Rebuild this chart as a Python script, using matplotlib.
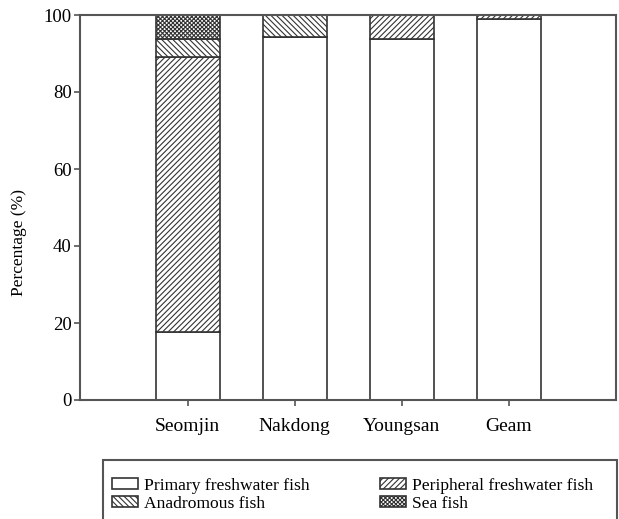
import matplotlib
matplotlib.use("Agg")
import matplotlib.pyplot as plt
from matplotlib.patches import Rectangle
import numpy as np

plt.rcParams['font.family'] = ['Liberation Serif', 'DejaVu Serif']
plt.rcParams['hatch.color'] = '#333333'
plt.rcParams['hatch.linewidth'] = 0.8

rivers = ["Seomjin", "Nakdong", "Youngsan", "Geam"]
primary = [17.7, 94.4, 93.7, 98.9]
peripheral = [71.3, 0.0, 6.3, 1.1]
anadromous = [4.7, 5.6, 0.0, 0.0]
sea = [6.3, 0.0, 0.0, 0.0]

series = [
    ("Primary freshwater fish", primary, ""),
    ("Peripheral freshwater fish", peripheral, "//////"),
    ("Anadromous fish", anadromous, "\\\\\\\\\\\\"),
    ("Sea fish", sea, "xxxxxxxx"),
]

fig = plt.figure(figsize=(6.19, 5.19), dpi=100)
ax = fig.add_axes([80/619, 1-400/519, 536/619, 385/519])

x = np.arange(len(rivers))
bottom = np.zeros(len(rivers))
handles = {}
for name, vals, hatch in series:
    vals = np.array(vals)
    b = ax.bar(x, vals, width=0.6, bottom=bottom, color='white',
               edgecolor='#333333', linewidth=1.2, hatch=hatch, label=name)
    handles[name] = b
    bottom += vals

ax.set_xlim(-1.005, 4.0)
ax.set_ylim(0, 100)
ax.set_yticks([0, 20, 40, 60, 80, 100])
ax.set_xticks(x)
ax.set_xticklabels(rivers)
ax.set_ylabel("Percentage (%)", fontsize=12.5)
ax.yaxis.set_label_coords(-0.098, 0.41)
ax.tick_params(axis='both', labelsize=14, color='#555555', width=1.2, length=4)
ax.tick_params(axis='y', labelsize=13.5, pad=2)
ax.tick_params(axis='x', pad=9)
for s in ax.spines.values():
    s.set_color('#555555')
    s.set_linewidth(1.5)

# legend frame that runs off the bottom of the picture
fig.patches.append(Rectangle((103/619, -0.1), 514/619, 0.1 + 59/519,
                             transform=fig.transFigure, fill=False,
                             edgecolor='#555555', linewidth=1.5))
order = ["Primary freshwater fish", "Anadromous fish",
         "Peripheral freshwater fish", "Sea fish"]
fig.legend([handles[n] for n in order], order, ncol=2, frameon=False,
           loc='upper left', bbox_to_anchor=(103/619, 1-469/519),
           fontsize=12.6, handlelength=1.5, handleheight=0.55,
           handletextpad=0.35, columnspacing=4.0, labelspacing=0.1,
           borderpad=0.0)

fig.savefig("out.png", dpi=100)
